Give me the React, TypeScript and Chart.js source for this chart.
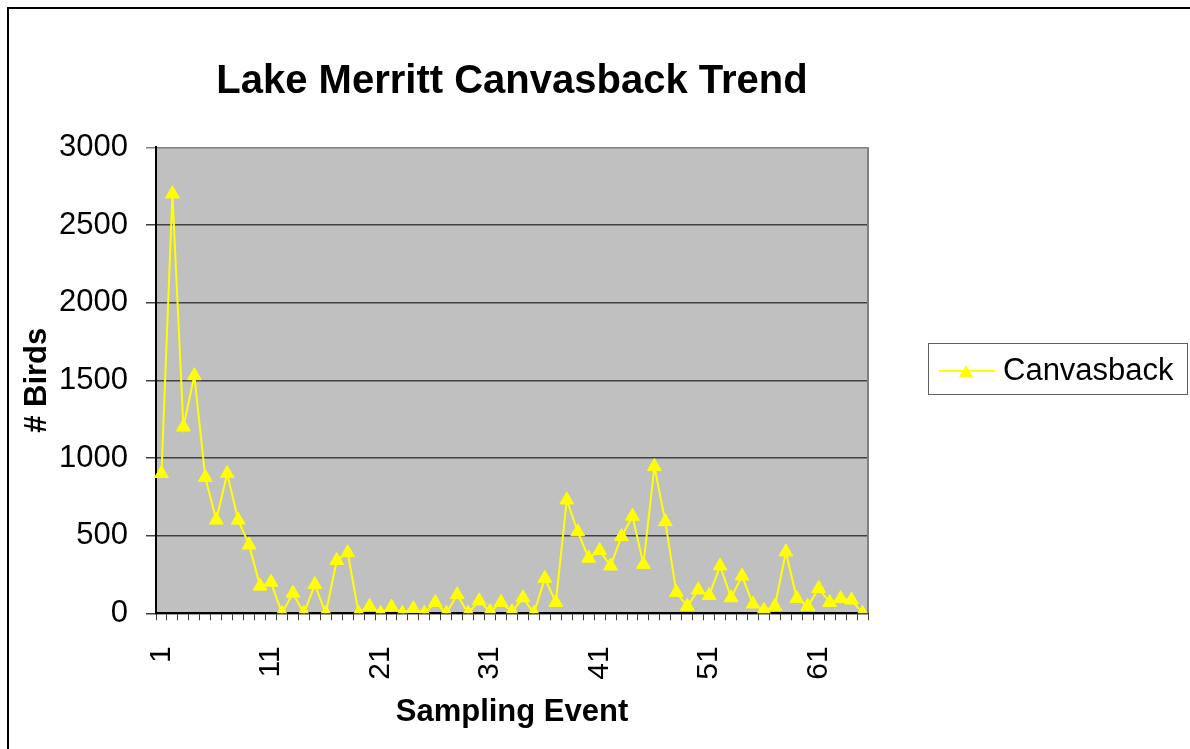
import React, { useEffect, useRef } from "react";
import { Chart, registerables } from "chart.js";

Chart.register(...registerables);

const chartTitle = "Lake Merritt Canvasback Trend";
const seriesName = "Canvasback";
const xTitle = "Sampling Event";
const yTitle = "# Birds";

const samplingEvents = [
  "1", "2", "3", "4", "5", "6", "7", "8", "9", "10",
  "11", "12", "13", "14", "15", "16", "17", "18", "19", "20",
  "21", "22", "23", "24", "25", "26", "27", "28", "29", "30",
  "31", "32", "33", "34", "35", "36", "37", "38", "39", "40",
  "41", "42", "43", "44", "45", "46", "47", "48", "49", "50",
  "51", "52", "53", "54", "55", "56", "57", "58", "59", "60",
  "61", "62", "63", "64", "65",
];

const canvasbackCounts = [
  900, 2700, 1200, 1530, 875, 600, 900, 600, 440, 175,
  200, 0, 130, 0, 185, 0, 340, 390, 0, 45,
  0, 40, 0, 30, 0, 70, 0, 120, 0, 80,
  10, 70, 10, 100, 0, 225, 70, 730, 525, 355,
  405, 305, 495, 625, 315, 945, 590, 135, 45, 150,
  115, 305, 100, 240, 60, 20, 45, 395, 95, 45,
  160, 70, 95, 85, 0,
];

const yMin = 0;
const yMax = 3000;
const yStep = 500;
const xLabelEvery = 10;

const FONT = "'Liberation Sans', Arial, sans-serif";
const YELLOW = "#FFFF00";
const POINT_R = 8;

const framePlugin = {
  id: "frame",
  beforeDraw(chart: any) {
    const { ctx, chartArea, width, height } = chart;
    ctx.save();
    ctx.fillStyle = "#FFFFFF";
    ctx.fillRect(0, 0, width, height);
    ctx.fillStyle = "#C0C0C0";
    ctx.fillRect(chartArea.left, chartArea.top, chartArea.right - chartArea.left, chartArea.bottom - chartArea.top);
    ctx.restore();
  },
  beforeDatasetsDraw(chart: any) {
    const { ctx, chartArea } = chart;
    ctx.save();
    ctx.strokeStyle = "#808080";
    ctx.lineWidth = 2;
    ctx.beginPath();
    ctx.moveTo(chartArea.right, chartArea.top);
    ctx.lineTo(chartArea.right, chartArea.bottom);
    ctx.stroke();
    ctx.restore();
  },
  afterDraw(chart: any) {
    const { ctx } = chart;
    ctx.save();
    // outer border
    ctx.strokeStyle = "#000000";
    ctx.lineWidth = 2;
    ctx.strokeRect(8, 8, 1300, 900);
    // legend
    ctx.strokeStyle = "#606060";
    ctx.lineWidth = 1;
    ctx.strokeRect(928.5, 343.5, 259, 51);
    const ly = 371;
    ctx.strokeStyle = YELLOW;
    ctx.lineWidth = 2;
    ctx.beginPath();
    ctx.moveTo(939, ly);
    ctx.lineTo(995, ly);
    ctx.stroke();
    ctx.fillStyle = YELLOW;
    const r = POINT_R;
    const cy = ly + r / 4;
    ctx.beginPath();
    ctx.moveTo(966, cy - r);
    ctx.lineTo(966 + r * Math.sin((2 * Math.PI) / 3), cy - r * Math.cos((2 * Math.PI) / 3));
    ctx.lineTo(966 - r * Math.sin((2 * Math.PI) / 3), cy - r * Math.cos((2 * Math.PI) / 3));
    ctx.closePath();
    ctx.fill();
    ctx.fillStyle = "#000000";
    ctx.font = `31px ${FONT}`;
    ctx.textBaseline = "middle";
    ctx.textAlign = "left";
    ctx.fillText(seriesName, 1003, ly);
    ctx.restore();
  },
};

export default function App() {
  const canvasRef = useRef<HTMLCanvasElement | null>(null);

  useEffect(() => {
    if (!canvasRef.current) return;
    const chart = new Chart(canvasRef.current, {
      type: "line",
      data: {
        labels: samplingEvents,
        datasets: [
          {
            label: seriesName,
            data: canvasbackCounts,
            borderColor: YELLOW,
            backgroundColor: YELLOW,
            borderWidth: 2,
            pointStyle: "triangle",
            pointRadius: POINT_R,
            pointHoverRadius: POINT_R,
            pointBackgroundColor: YELLOW,
            pointBorderColor: YELLOW,
            pointBorderWidth: 1,
            tension: 0,
            fill: false,
          },
        ],
      },
      options: {
        animation: false,
        responsive: false,
        devicePixelRatio: 1,
        layout: { padding: { left: 0, right: 322, top: 0, bottom: 0 } },
        plugins: {
          legend: { display: false },
          tooltip: { enabled: false },
          title: {
            display: true,
            text: chartTitle,
            fullSize: false,
            color: "#000000",
            font: { family: FONT, size: 40, weight: "bold", lineHeight: 1.2 },
            padding: { top: 58, bottom: 41.3 },
          },
        },
        scales: {
          x: {
            type: "category",
            offset: true,
            grid: {
              display: true,
              drawOnChartArea: false,
              drawTicks: true,
              tickLength: 7,
              offset: true,
              color: "#404040",
              lineWidth: 1,
            },
            border: { display: true, color: "#000000", width: 2 },
            ticks: {
              autoSkip: false,
              minRotation: 90,
              maxRotation: 90,
              padding: 26,
              color: "#000000",
              font: { family: FONT, size: 30 },
              callback: function (_v: any, index: number) {
                return index % xLabelEvery === 0 ? samplingEvents[index] : "";
              },
            },
            title: {
              display: true,
              text: xTitle,
              color: "#000000",
              font: { family: FONT, size: 31, weight: "bold", lineHeight: 1.2 },
              padding: { top: 0, bottom: 18.4 },
            },
            afterFit(scale: any) {
              scale.height = 135.7;
            },
          },
          y: {
            min: yMin,
            max: yMax,
            ticks: {
              stepSize: yStep,
              padding: 18,
              color: "#000000",
              font: { family: FONT, size: 31 },
              callback: (v: any) => String(v),
            },
            grid: {
              drawTicks: true,
              tickLength: 10,
              color: (c: any) => (c.tick && c.tick.value === yMax ? "#808080" : "#404040"),
              lineWidth: 1.5,
            },
            border: { display: true, color: "#000000", width: 2 },
            title: {
              display: true,
              text: yTitle,
              color: "#000000",
              font: { family: FONT, size: 31, weight: "bold", lineHeight: 1.2 },
              padding: { top: 18.4, bottom: 0 },
            },
            afterFit(scale: any) {
              scale.width = 156;
            },
          },
        },
      },
      plugins: [framePlugin],
    } as any);
    return () => chart.destroy();
  }, []);

  return (
    <div style={{ position: "fixed", left: 0, top: 0, width: 1190, height: 749, overflow: "hidden", background: "#fff" }}>
      <canvas ref={canvasRef} width={1190} height={749} style={{ width: 1190, height: 749, display: "block" }} />
    </div>
  );
}
